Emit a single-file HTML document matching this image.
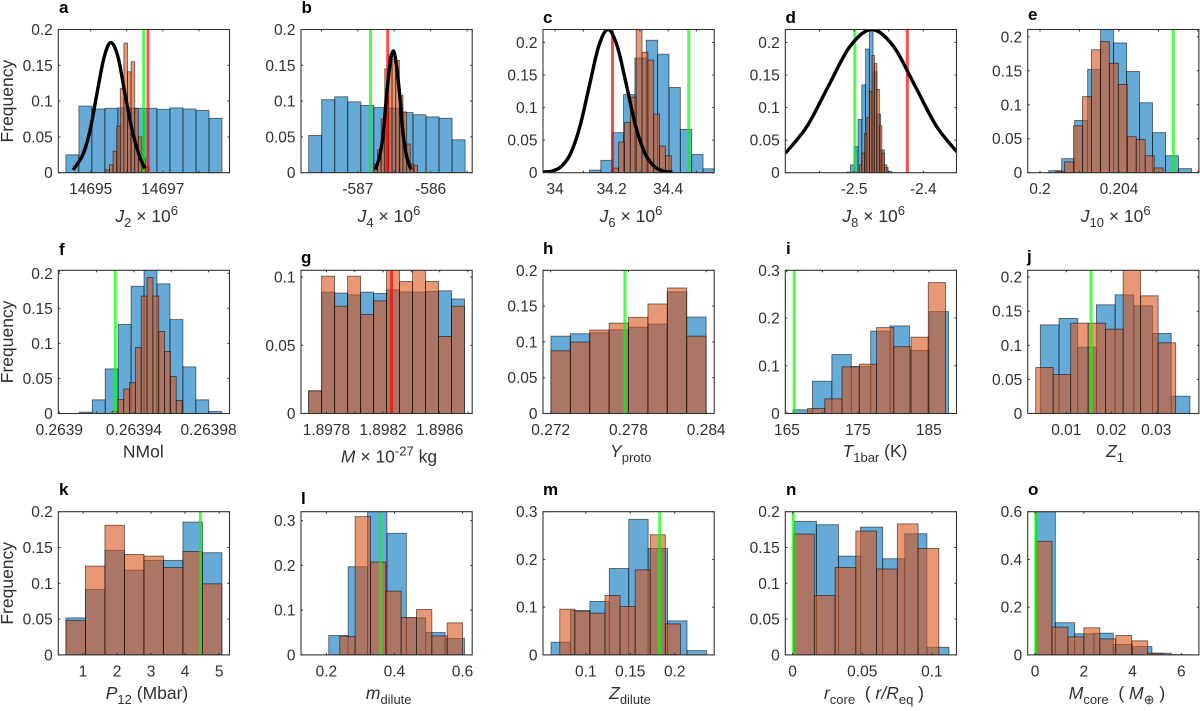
<!DOCTYPE html>
<html lang="en">
<head>
<meta charset="utf-8">
<title>Posterior histograms</title>
<style>
html,body{margin:0;padding:0;background:#fff;}
svg{display:block;filter:blur(0.35px);}
text{font-family:"Liberation Sans",Arial,sans-serif;fill:#303030;white-space:pre;}
</style>
</head>
<body>
<svg id="chart" xmlns="http://www.w3.org/2000/svg" width="1200" height="711" viewBox="0 0 1200 711">
<rect x="0" y="0" width="1200" height="711" fill="#fff"/>
</svg>
<script>
// ---- tick values shared between panels
const yTicks020 = [0, 0.05, 0.1, 0.15, 0.2];
const yTicksG = [0, 0.05, 0.1];
const yTicks030 = [0, 0.1, 0.2, 0.3];
const yTicksO = [0, 0.2, 0.4, 0.6];

// ---- panel a
const aXlim = [14694.10, 14698.85];
const aYlim = [0, 0.2];
const aXTicks = [14695, 14696, 14697, 14698];
const aXLabels = ['14695', '', '14697', ''];
const aBlueBin = [14694.31, 0.361];
const aBlue = [0.025, 0.093, 0.089, 0.090, 0.0905, 0.090, 0.090, 0.0885, 0.0905, 0.089, 0.087, 0.076];
const aOrangeBin = [14695.42, 0.1];
const aOrange = [0.004, 0.011, 0.03, 0.065, 0.118, 0.181, 0.141, 0.155, 0.09, 0.05, 0.02, 0.009];
const aRed = [14696.59];
const aGreen = [14696.47];
const aCurveX = [14694.51, 14694.78, 14694.98, 14695.17, 14695.37, 14695.56, 14695.76, 14695.95, 14696.15, 14696.34, 14696.50];
const aCurveY = [0.004, 0.025, 0.059, 0.110, 0.161, 0.182, 0.161, 0.110, 0.059, 0.025, 0.006];

// ---- panel b
const bXlim = [-587.78, -585.43];
const bYlim = [0, 0.2];
const bXTicks = [-587.5, -587, -586.5, -586, -585.5];
const bXLabels = ['', '-587', '', '-586', ''];
const bBlueBin = [-587.675, 0.179];
const bBlue = [0.052, 0.102, 0.106, 0.099, 0.094, 0.091, 0.09, 0.084, 0.081, 0.078, 0.076, 0.046];
const bOrangeBin = [-586.78, 0.05];
const bOrange = [0.012, 0.032, 0.075, 0.145, 0.165, 0.158, 0.157, 0.108, 0.085, 0.04, 0.012, 0.01];
const bRed = [-586.59];
const bGreen = [-586.826];
const bCurveX = [-586.76, -586.70, -586.65, -586.61, -586.56, -586.514, -586.47, -586.42, -586.38, -586.33, -586.27];
const bCurveY = [0.0044, 0.023, 0.055, 0.103, 0.15, 0.17, 0.15, 0.103, 0.055, 0.023, 0.0044];

// ---- panel c
const cXlim = [33.957, 34.563];
const cYlim = [0, 0.22];
const cXTicks = [34, 34.1, 34.2, 34.3, 34.4, 34.5];
const cXLabels = ['34', '', '34.2', '', '34.4', ''];
const cBlueBin = [34.1215, 0.0402];
const cBlue = [0.004, 0.019, 0.0615, 0.12, 0.176, 0.2035, 0.182, 0.131, 0.0665, 0.028, 0.006];
const cOrangeBin = [34.204, 0.0207];
const cOrange = [0.007, 0.047, 0.077, 0.116, 0.23, 0.185, 0.173, 0.09, 0.041, 0.026];
const cRed = [34.203];
const cGreen = [34.473];
const cCurveX = [33.957, 33.989, 34.022, 34.055, 34.088, 34.121, 34.154, 34.187, 34.220, 34.253, 34.285, 34.318, 34.351, 34.384, 34.415];
const cCurveY = [0.001, 0.0024, 0.0097, 0.0297, 0.0714, 0.1334, 0.194, 0.22, 0.194, 0.1334, 0.0714, 0.0297, 0.0097, 0.0024, 0.001];

// ---- panel d
const dXlim = [-2.5995, -2.352];
const dYlim = [0, 0.22];
const dXTicks = [-2.55, -2.5, -2.45, -2.4];
const dXLabels = ['', '-2.5', '', '-2.4'];
const dBlueBin = [-2.5106, 0.00543];
const dBlue = [0.001, 0.012, 0.04, 0.082, 0.135, 0.19, 0.24, 0.155, 0.09, 0.035, 0.008, 0.002];
const dOrangeBin = [-2.4923, 0.0036];
const dOrange = [0.012, 0.03, 0.06, 0.085, 0.125, 0.18, 0.168, 0.128, 0.072, 0.03, 0.012];
const dRed = [-2.4231];
const dGreen = [-2.499];
const dCurveX = [-2.5995, -2.568, -2.537, -2.506, -2.4745, -2.443, -2.412, -2.381, -2.3495];
const dCurveY = [0.0297, 0.0714, 0.1334, 0.194, 0.22, 0.194, 0.1334, 0.0714, 0.0297];

// ---- panel e
const eXlim = [0.199376, 0.20805];
const eYlim = [0, 0.2108];
const eXTicks = [0.2, 0.202, 0.204, 0.206, 0.208];
const eXLabels = ['0.2', '', '0.204', '', ''];
const eBlueBin = [0.200439, 0.000658];
const eBlue = [0.003, 0.0206, 0.077, 0.152, 0.225, 0.191, 0.149, 0.103, 0.059, 0.025, 0.006];
const eOrangeBin = [0.20079, 0.000454];
const eOrange = [0.002, 0.016, 0.069, 0.112, 0.181, 0.193, 0.161, 0.13, 0.053, 0.049, 0.025, 0.007];
const eGreen = [0.206752];

// ---- panel f
const fXlim = [0.26389946, 0.26399123];
const fYlim = [0, 0.2043];
const fXTicks = [0.2639, 0.26392, 0.26394, 0.26396, 0.26398];
const fXLabels = ['0.2639', '', '0.26394', '', '0.26398'];
const fBlueBin = [0.26391073, 0.00000694];
const fBlue = [0.002, 0.0195, 0.0636, 0.127, 0.1815, 0.21, 0.185, 0.134, 0.0665, 0.0195, 0.003];
const fOrangeBin = [0.26392826, 0.00000313];
const fOrange = [0.003, 0.02, 0.035, 0.044, 0.094, 0.1675, 0.194, 0.1675, 0.117, 0.0885, 0.0527, 0.0185];
const fGreen = [0.2639300];

// ---- panel g
const gXlim = [1.89762, 1.89883];
const gYlim = [0, 0.105];
const gXTicks = [1.8978, 1.898, 1.8982, 1.8984, 1.8986, 1.8988];
const gXLabels = ['1.8978', '', '1.8982', '', '1.8986', ''];
const gBlueBin = [1.897674, 0.0000918];
const gBlue = [0.0166, 0.089, 0.0883, 0.087, 0.089, 0.088, 0.0907, 0.0892, 0.089, 0.0895, 0.09, 0.084];
const gOrangeBin = [1.897674, 0.0000918];
const gOrange = [0.0166, 0.1007, 0.0787, 0.1007, 0.0726, 0.0826, 0.107, 0.0968, 0.107, 0.0968, 0.0565, 0.0787];
const gRed = [1.89826];

// ---- panel h
const hXlim = [0.271406, 0.284619];
const hYlim = [0, 0.2];
const hXTicks = [0.272, 0.278, 0.284];
const hXLabels = ['0.272', '0.278', '0.284'];
const hBlueBin = [0.27202, 0.0014968];
const hBlue = [0.108, 0.1114, 0.1128, 0.117, 0.1207, 0.125, 0.17, 0.1347];
const hOrangeBin = [0.27202, 0.0014968];
const hOrange = [0.0876, 0.0998, 0.1166, 0.1263, 0.1343, 0.153, 0.1753, 0.108];
const hGreen = [0.27773];

// ---- panel i
const iXlim = [164.77, 188.9];
const iYlim = [0, 0.3];
const iXTicks = [165, 170, 175, 180, 185];
const iXLabels = ['165', '', '175', '', '185'];
const iBlueBin = [165.85, 2.74];
const iBlue = [0.0077, 0.0677, 0.1235, 0.0984, 0.1724, 0.1835, 0.132, 0.2135];
const iOrangeBin = [167.91, 2.43];
const iOrange = [0.0105, 0.0307, 0.0977, 0.1033, 0.18, 0.14, 0.16, 0.2743];
const iGreen = [166.03];

// ---- panel j
const jXlim = [0.00141, 0.03948];
const jYlim = [0, 0.21];
const jXTicks = [0.01, 0.02, 0.03];
const jXLabels = ['0.01', '0.02', '0.03'];
const jBlueBin = [0.004225, 0.004156];
const jBlue = [0.13, 0.1394, 0.0973, 0.1594, 0.174, 0.158, 0.1174, 0.0254];
const jOrangeBin = [0.003188, 0.003889];
const jOrange = [0.0675, 0.0572, 0.1325, 0.1325, 0.1237, 0.215, 0.1726, 0.1037];
const jGreen = [0.015484];

// ---- panel k
const kXlim = [0.2745, 5.304];
const kYlim = [0, 0.2];
const kXTicks = [1, 2, 3, 4, 5];
const kXLabels = ['1', '2', '3', '4', '5'];
const kBlueBin = [0.5, 0.5725];
const kBlue = [0.0517, 0.0914, 0.146, 0.1184, 0.132, 0.132, 0.1855, 0.1427];
const kOrangeBin = [0.5, 0.5725];
const kOrange = [0.048, 0.124, 0.181, 0.1403, 0.138, 0.122, 0.1445, 0.0993];
const kGreen = [4.451];

// ---- panel l
const lXlim = [0.1253, 0.6285];
const lYlim = [0, 0.32];
const lXTicks = [0.2, 0.4, 0.6];
const lXLabels = ['0.2', '0.4', '0.6'];
const lBlueBin = [0.2069, 0.057];
const lBlue = [0.0433, 0.197, 0.33, 0.2716, 0.083, 0.05, 0.0366];
const lOrangeBin = [0.2393, 0.0451];
const lOrange = [0.041, 0.309, 0.2075, 0.1425, 0.0836, 0.1015, 0.0425, 0.0716];
const lGreen = [0.3592];

// ---- panel m
const mXlim = [0.05188, 0.24436];
const mYlim = [0, 0.3];
const mXTicks = [0.1, 0.15, 0.2];
const mXLabels = ['0.1', '0.15', '0.2'];
const mBlueBin = [0.0609, 0.02184];
const mBlue = [0.0266, 0.093, 0.112, 0.181, 0.284, 0.223, 0.0713, 0.009];
const mOrangeBin = [0.0707, 0.01696];
const mOrange = [0.0958, 0.0916, 0.0874, 0.1245, 0.1014, 0.1783, 0.2517, 0.065];
const mGreen = [0.18308];

// ---- panel n
const nXlim = [-0.00525, 0.11766];
const nYlim = [0, 0.2];
const nXTicks = [0, 0.05, 0.1];
const nXLabels = ['0', '0.05', '0.1'];
const nBlueBin = [0.00119, 0.01587];
const nBlue = [0.1865, 0.1818, 0.138, 0.1785, 0.1343, 0.1692, 0.0107];
const nOrangeBin = [0.00072, 0.01489];
const nOrange = [0.1688, 0.083, 0.1221, 0.173, 0.12, 0.183, 0.1487];
const nGreen = [0.00048];

// ---- panel o
const oXlim = [-0.3005, 6.72];
const oYlim = [0, 0.6];
const oXTicks = [0, 2, 4, 6];
const oXLabels = ['0', '2', '4', '6'];
const oBlueBin = [0.041, 0.792];
const oBlue = [0.6, 0.1348, 0.0885, 0.091, 0.0435, 0.035, 0.007, 0.001];
const oOrangeBin = [0.041, 0.654];
const oOrange = [0.476, 0.1165, 0.0758, 0.1137, 0.0674, 0.0815, 0.059, 0.007];
const oGreen = [0.028];

// ---- panel wiring
const panels = [
  {id:'a',c:0,r:0,xlim:aXlim,ylim:aYlim,xt:aXTicks,xl:aXLabels,yt:yTicks020,bb:aBlueBin,bv:aBlue,ob:aOrangeBin,ov:aOrange,red:aRed,green:aGreen,cx:aCurveX,cy:aCurveY,freq:true,
   tag:[59,13],title:[146.7,222],lab:[['J','i'],['2','s'],[' × '],['10'],['6','u']]},
  {id:'b',c:1,r:0,xlim:bXlim,ylim:bYlim,xt:bXTicks,xl:bXLabels,yt:yTicks020,bb:bBlueBin,bv:bBlue,ob:bOrangeBin,ov:bOrange,red:bRed,green:bGreen,cx:bCurveX,cy:bCurveY,
   tag:[301.5,13],title:[389,222],lab:[['J','i'],['4','s'],[' × '],['10'],['6','u']]},
  {id:'c',c:2,r:0,xlim:cXlim,ylim:cYlim,xt:cXTicks,xl:cXLabels,yt:yTicks020,bb:cBlueBin,bv:cBlue,ob:cOrangeBin,ov:cOrange,red:cRed,green:cGreen,cx:cCurveX,cy:cCurveY,
   tag:[543,23],title:[631,222],lab:[['J','i'],['6','s'],[' × '],['10'],['6','u']]},
  {id:'d',c:3,r:0,xlim:dXlim,ylim:dYlim,xt:dXTicks,xl:dXLabels,yt:yTicks020,bb:dBlueBin,bv:dBlue,ob:dOrangeBin,ov:dOrange,red:dRed,green:dGreen,cx:dCurveX,cy:dCurveY,
   tag:[785.5,23],title:[873.7,222],lab:[['J','i'],['8','s'],[' × '],['10'],['6','u']]},
  {id:'e',c:4,r:0,xlim:eXlim,ylim:eYlim,xt:eXTicks,xl:eXLabels,yt:yTicks020,bb:eBlueBin,bv:eBlue,ob:eOrangeBin,ov:eOrange,green:eGreen,
   tag:[1028,20],title:[1115.7,222],lab:[['J','i'],['10','s'],[' × '],['10'],['6','u']]},
  {id:'f',c:0,r:1,xlim:fXlim,ylim:fYlim,xt:fXTicks,xl:fXLabels,yt:yTicks020,bb:fBlueBin,bv:fBlue,ob:fOrangeBin,ov:fOrange,green:fGreen,freq:true,
   tag:[59,255],title:[143.3,457.5],lab:[['NMol']]},
  {id:'g',c:1,r:1,xlim:gXlim,ylim:gYlim,xt:gXTicks,xl:gXLabels,yt:yTicksG,bb:gBlueBin,bv:gBlue,ob:gOrangeBin,ov:gOrange,red:gRed,
   tag:[301,263],title:[389,462.5],lab:[['M','i'],[' × '],['10'],['-27','u'],[' kg']]},
  {id:'h',c:2,r:1,xlim:hXlim,ylim:hYlim,xt:hXTicks,xl:hXLabels,yt:yTicks020,bb:hBlueBin,bv:hBlue,ob:hOrangeBin,ov:hOrange,green:hGreen,
   tag:[543,254],title:[630.7,457],lab:[['Y','i'],['proto','s']]},
  {id:'i',c:3,r:1,xlim:iXlim,ylim:iYlim,xt:iXTicks,xl:iXLabels,yt:yTicks030,bb:iBlueBin,bv:iBlue,ob:iOrangeBin,ov:iOrange,green:iGreen,
   tag:[786,254],title:[875,457],lab:[['T','i'],['1bar','s'],[' (K)']]},
  {id:'j',c:4,r:1,xlim:jXlim,ylim:jYlim,xt:jXTicks,xl:jXLabels,yt:yTicks020,bb:jBlueBin,bv:jBlue,ob:jOrangeBin,ov:jOrange,green:jGreen,
   tag:[1027,262],title:[1115,457],lab:[['Z','i'],['1','s']]},
  {id:'k',c:0,r:2,xlim:kXlim,ylim:kYlim,xt:kXTicks,xl:kXLabels,yt:yTicks020,bb:kBlueBin,bv:kBlue,ob:kOrangeBin,ov:kOrange,green:kGreen,freq:true,
   tag:[59,495],title:[147,699],lab:[['P','i'],['12','s'],[' (Mbar)']]},
  {id:'l',c:1,r:2,xlim:lXlim,ylim:lYlim,xt:lXTicks,xl:lXLabels,yt:yTicks030,bb:lBlueBin,bv:lBlue,ob:lOrangeBin,ov:lOrange,green:lGreen,
   tag:[301,504],title:[388.7,699],lab:[['m','i'],['dilute','s']]},
  {id:'m',c:2,r:2,xlim:mXlim,ylim:mYlim,xt:mXTicks,xl:mXLabels,yt:yTicks030,bb:mBlueBin,bv:mBlue,ob:mOrangeBin,ov:mOrange,green:mGreen,
   tag:[543,495],title:[630,699],lab:[['Z','i'],['dilute','s']]},
  {id:'n',c:3,r:2,xlim:nXlim,ylim:nYlim,xt:nXTicks,xl:nXLabels,yt:yTicks020,bb:nBlueBin,bv:nBlue,ob:nOrangeBin,ov:nOrange,green:nGreen,
   tag:[786,495],title:[874,699],lab:[['r','i'],['core','s'],['  ( '],['r/R','i'],['eq','s'],[' )']]},
  {id:'o',c:4,r:2,xlim:oXlim,ylim:oYlim,xt:oXTicks,xl:oXLabels,yt:yTicksO,bb:oBlueBin,bv:oBlue,ob:oOrangeBin,ov:oOrange,green:oGreen,
   tag:[1028,495],title:[1117,699],lab:[['M','i'],['core','s'],['  ( '],['M','i'],['⊕','s'],[' )']]}
];

const colLeft = [58.3, 301, 543, 785.3, 1027.7];
const rowTop = [29.5, 270.3, 511.7];
const axW = 171.2;
const axH = 143.2;
const svg = document.getElementById('chart');
const NS = 'http://www.w3.org/2000/svg';

function mk(tag, parent, attrs) {
  const e = document.createElementNS(NS, tag);
  for (const k in attrs) e.setAttribute(k, attrs[k]);
  parent.appendChild(e);
  return e;
}

function smoothPath(pts) {
  let d = 'M' + pts[0][0].toFixed(2) + ' ' + pts[0][1].toFixed(2);
  for (let i = 0; i < pts.length - 1; i++) {
    const p0 = pts[Math.max(0, i - 1)], p1 = pts[i], p2 = pts[i + 1], p3 = pts[Math.min(pts.length - 1, i + 2)];
    const c1x = p1[0] + (p2[0] - p0[0]) / 6, c1y = p1[1] + (p2[1] - p0[1]) / 6;
    const c2x = p2[0] - (p3[0] - p1[0]) / 6, c2y = p2[1] - (p3[1] - p1[1]) / 6;
    d += 'C' + c1x.toFixed(2) + ' ' + c1y.toFixed(2) + ' ' + c2x.toFixed(2) + ' ' + c2y.toFixed(2) + ' ' + p2[0].toFixed(2) + ' ' + p2[1].toFixed(2);
  }
  return d;
}

function drawBars(g, vals, bin, sx, sy, fill, name) {
  vals.forEach(function (v, i) {
    const x0 = sx(bin[0] + i * bin[1]);
    const x1 = sx(bin[0] + (i + 1) * bin[1]);
    const rect = mk('rect', g, {x: x0, y: sy(v), width: x1 - x0, height: sy(0) - sy(v), fill: fill, 'fill-opacity': 0.6, stroke: '#000', 'stroke-opacity': 0.55, 'stroke-width': 0.9});
    
    
  });
}

function drawVLine(g, x, sx, top, bottom, color, name) {
  const line = mk('line', g, {x1: sx(x), x2: sx(x), y1: top, y2: bottom, stroke: color, 'stroke-opacity': 0.7, 'stroke-width': 3});
  
  
}

panels.forEach(function (p) {
  const L = colLeft[p.c], T = rowTop[p.r], R = L + axW, B = T + axH;
  const sx = function (v) { return L + (v - p.xlim[0]) / (p.xlim[1] - p.xlim[0]) * axW; };
  const sy = function (v) { return B - (v - p.ylim[0]) / (p.ylim[1] - p.ylim[0]) * axH; };

  const g = mk('g', svg, {});
  
  

  const cp = mk('clipPath', g, {id: 'clip-' + p.id});
  mk('rect', cp, {x: L, y: T, width: axW, height: axH});

  const plot = mk('g', g, {'clip-path': 'url(#clip-' + p.id + ')'});
  
  

  drawBars(plot, p.bv, p.bb, sx, sy, 'rgb(0,114,189)', 'blue-bar');
  drawBars(plot, p.ov, p.ob, sx, sy, 'rgb(217,83,25)', 'orange-bar');

  if (p.green) p.green.forEach(function (x) { drawVLine(plot, x, sx, T, B, 'rgb(0,255,0)', 'green-marker-line'); });
  if (p.red) p.red.forEach(function (x) { drawVLine(plot, x, sx, T, B, 'rgb(255,0,0)', 'red-marker-line'); });

  if (p.cx) {
    const pts = p.cx.map(function (x, i) { return [sx(x), sy(p.cy[i])]; });
    const curve = mk('path', plot, {d: smoothPath(pts), fill: 'none', stroke: '#000', 'stroke-width': 3.4, 'stroke-linejoin': 'round'});
    
    
  }

  const box = mk('rect', g, {x: L, y: T, width: axW, height: axH, fill: 'none', stroke: '#333', 'stroke-width': 1.1});
  
  

  p.xt.forEach(function (v, i) {
    const x = sx(v);
    const tickB = mk('line', g, {x1: x, x2: x, y1: B, y2: B - 2, stroke: '#333', 'stroke-width': 1});
    
    
    const tickT = mk('line', g, {x1: x, x2: x, y1: T, y2: T + 2, stroke: '#333', 'stroke-width': 1});
    
    
    if (p.xl[i]) {
      const t = mk('text', g, {x: x, y: B + 21.5, 'text-anchor': 'middle', 'font-size': 15.5});
      
      
      t.textContent = p.xl[i];
    }
  });

  p.yt.forEach(function (v) {
    const y = sy(v);
    const tickL = mk('line', g, {x1: L, x2: L + 2, y1: y, y2: y, stroke: '#333', 'stroke-width': 1});
    
    
    const tickR = mk('line', g, {x1: R, x2: R - 2, y1: y, y2: y, stroke: '#333', 'stroke-width': 1});
    
    
    const t = mk('text', g, {x: L - 5.5, y: y + 5.5, 'text-anchor': 'end', 'font-size': 15.5});
    
    
    t.textContent = String(v);
  });

  const tag = mk('text', g, {x: p.tag[0], y: p.tag[1], 'font-size': 17, 'font-weight': 'bold'});
  
  
  tag.style.fill = '#000';
  tag.textContent = p.id;

  const title = mk('text', g, {x: p.title[0], y: p.title[1], 'text-anchor': 'middle', 'font-size': 17.5});
  
  
  let off = 0;
  p.lab.forEach(function (part) {
    const kind = part[1] || '';
    const target = kind === 's' ? 5 : (kind === 'u' ? -7 : 0);
    const span = mk('tspan', title, {dy: target - off});
    off = target;
    if (kind === 'i') span.setAttribute('font-style', 'italic');
    if (kind === 's' || kind === 'u') span.setAttribute('font-size', 13);
    span.textContent = part[0];
  });

  if (p.freq) {
    const cy = T + axH * 0.5;
    const yt = mk('text', g, {x: 13, y: cy, 'text-anchor': 'middle', 'font-size': 17.5, transform: 'rotate(-90 13 ' + cy + ')'});
    
    
    yt.textContent = 'Frequency';
  }
});
</script>
</body>
</html>
